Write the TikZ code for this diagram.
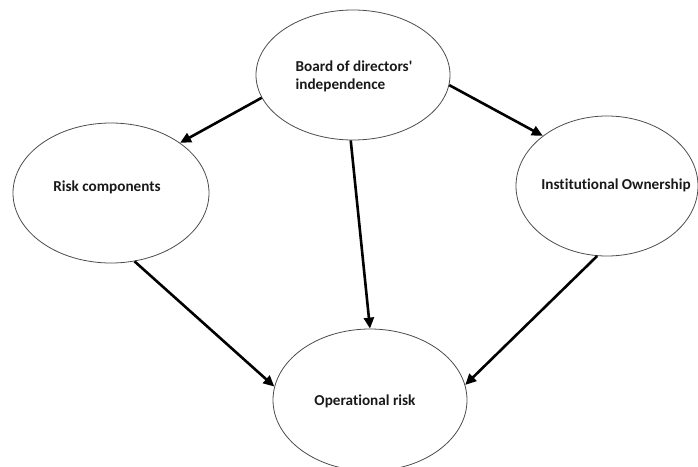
\documentclass[tikz,border=0pt]{standalone}
\usepackage{fontspec}
\setmainfont[Ligatures={NoCommon,TeXOff}]{Carlito}
\usetikzlibrary{shapes.geometric,arrows.meta}
\begin{document}
\begin{tikzpicture}[x=1pt,y=-1pt,
  oval/.style={ellipse,draw=black!70,line width=0.8pt,inner sep=0pt},
  lbl/.style={font=\fontsize{15.2}{18}\selectfont\bfseries,text=black!90,inner sep=0pt},
  arr/.style={line width=2.6pt,-{Triangle[length=11pt,width=10pt]}}]
\useasboundingbox (0,0) rectangle (698,466);
\node[oval,minimum width=194pt,minimum height=130pt] (top) at (353,75) {};
\node[oval,minimum width=196pt,minimum height=140pt] (left) at (111,193) {};
\node[oval,minimum width=182pt,minimum height=140pt] (right) at (607,186) {};
\node[oval,minimum width=194pt,minimum height=142pt] (bot) at (370,400) {};
\node[lbl,align=left] (topt) at (354,76) {Board of directors'\\independence};
\node[lbl] (leftt) at (107,187) {Risk components};
\node[lbl] (rightt) at (616,185) {Institutional Ownership};
\node[lbl] (bott) at (365,401) {Operational risk};
\draw[arr] (top.194) -- (left.36);
\draw[arr] (top.354) -- (right.142);
\draw[arr] (top.268) -- (bot.north);
\draw[arr] (left.289) -- (bot.172);
\draw[arr] (right.262) -- (bot.9);
\end{tikzpicture}
\end{document}
